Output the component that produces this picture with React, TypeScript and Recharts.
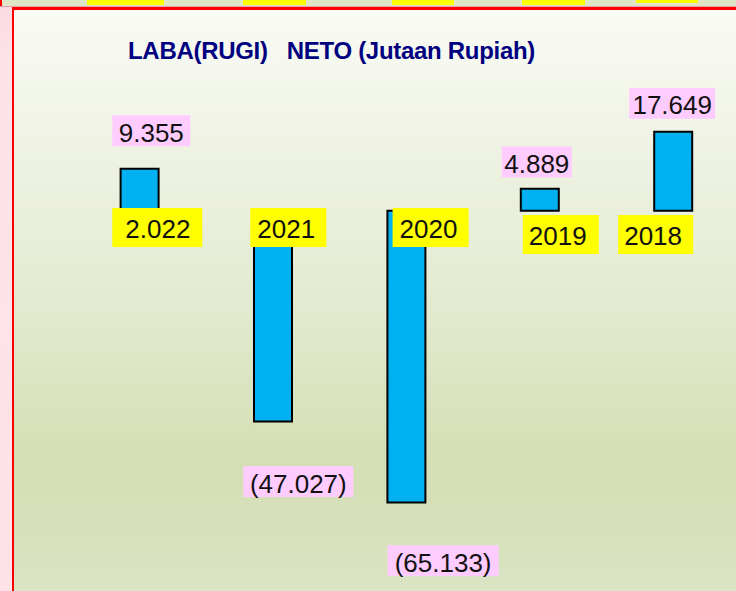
import React from 'react';
import { BarChart, Bar, XAxis, YAxis, LabelList } from 'recharts';

// ---- data ----
const categories = ['2.022', '2021', '2020', '2019', '2018'];
const netProfit = [9355, -47027, -65133, 4889, 17649];
const chartTitle = 'LABA(RUGI)   NETO (Jutaan Rupiah)';

const data = categories.map((cat, i) => ({ cat, value: netProfit[i] }));

// ---- label layout (hand placed boxes, relative to each bar) ----
const valueLabelLayout = [
  { dx: -27.3, gap: 22.5, w: 78 },
  { dx: -29.7, gap: 44.7, w: 110 },
  { dx: -18.8, gap: 42.7, w: 111 },
  { dx: -38, gap: 11.3, w: 70 },
  { dx: -44, gap: 12.7, w: 86 },
];
const catLabelLayout = [
  { dx: -27.3, dy: -2.7, w: 90, tx: 13 },
  { dx: -22.7, dy: -2.7, w: 76, tx: 7 },
  { dx: -13.8, dy: -2.7, w: 76, tx: 7 },
  { dx: -17, dy: 4.3, w: 76, tx: 6 },
  { dx: -55, dy: 4.3, w: 75, tx: 6 },
];

const FONT = "'Liberation Sans', Arial, sans-serif";

const fmt = (v: number) => {
  const s = Math.abs(v)
    .toString()
    .replace(/\B(?=(\d{3})+(?!\d))/g, '.');
  return v < 0 ? `(${s})` : s;
};

const renderLabels = (props: any) => {
  const vb = props.viewBox && props.viewBox.width !== undefined ? props.viewBox : props;
  const x = Number(vb.x);
  const y = Number(vb.y);
  const w = Number(vb.width);
  const h = Number(vb.height);
  const index = props.index as number;
  const value = netProfit[index];
  const top = Math.min(y, y + h);
  const bottom = Math.max(y, y + h);
  const cx = x + w / 2;
  const zeroY = value >= 0 ? bottom : top;
  const endY = value >= 0 ? top : bottom;

  const vl = valueLabelLayout[index];
  const vRectY = value >= 0 ? endY - vl.gap - 31 : endY + vl.gap;
  const vRectX = cx + vl.dx;

  const cl = catLabelLayout[index];
  const cRectX = cx + cl.dx;
  const cRectY = zeroY + cl.dy;

  return (
    <g>
      <rect x={vRectX} y={vRectY} width={vl.w} height={31} fill="#FFCCFF" />
      <text
        x={vRectX + vl.w / 2}
        y={vRectY + 26.5}
        textAnchor="middle"
        fontFamily={FONT}
        fontSize={26}
        fill="#111"
      >
        {fmt(value)}
      </text>
      <rect x={cRectX} y={cRectY} width={cl.w} height={39} fill="#FFFF00" />
      <text
        x={cRectX + cl.tx}
        y={cRectY + 29.5}
        textAnchor="start"
        fontFamily={FONT}
        fontSize={26}
        fill="#111"
      >
        {categories[index]}
      </text>
    </g>
  );
};

const topStripBoxes = [
  { l: 87, w: 77, h: 5 },
  { l: 243, w: 63, h: 5 },
  { l: 392, w: 62, h: 5 },
  { l: 522, w: 63, h: 5 },
  { l: 636, w: 62, h: 3 },
];

export default function App() {
  return (
    <div
      style={{
        position: 'absolute',
        left: 0,
        top: 0,
        width: 736,
        height: 591,
        overflow: 'hidden',
        background: 'linear-gradient(to bottom, #FBD9E0 0%, #FDE3E8 10%, #FEE2E7 100%)',
      }}
    >
      {/* top strip */}
      <div
        style={{
          position: 'absolute',
          left: 0,
          top: 0,
          width: 736,
          height: 6,
          background: '#DFE6C8',
        }}
      />
      <div style={{ position: 'absolute', left: 0, top: 0, width: 2, height: 6, background: '#FF0000' }} />
      {topStripBoxes.map((b, i) => (
        <div
          key={i}
          style={{ position: 'absolute', left: b.l, top: 0, width: b.w, height: b.h, background: '#FFFF00' }}
        />
      ))}
      <div style={{ position: 'absolute', left: 0, top: 6, width: 736, height: 1, background: '#E8A0A8' }} />
      {/* main panel */}
      <div
        style={{
          position: 'absolute',
          left: 12,
          top: 7,
          width: 740,
          height: 600,
          boxSizing: 'border-box',
          borderLeft: '2.5px solid #FF0000',
          borderTop: '3px solid #FF0000',
          background:
            'linear-gradient(to bottom, #F9FBF5 0%, #EEF2E2 25%, #E3EACF 50%, #D4DFB5 75%, #D6E0BA 85%, #DCE5C6 100%)',
        }}
      />
      <div
        style={{
          position: 'absolute',
          left: 128,
          top: 39,
          fontFamily: FONT,
          fontWeight: 'bold',
          fontSize: 24,
          lineHeight: '24px',
          color: '#000080',
          whiteSpace: 'pre',
          letterSpacing: -0.3,
        }}
      >
        {chartTitle}
      </div>
      <div style={{ position: 'absolute', left: 0, top: 0 }}>
        <BarChart
          width={760}
          height={600}
          data={data}
          margin={{ top: 98.7, right: 20.4, bottom: 30.9, left: 72.6 }}
        >
          <XAxis dataKey="cat" hide />
          <YAxis hide domain={[-80000, 25000]} allowDataOverflow />
          <Bar
            dataKey="value"
            fill="#00B0F0"
            stroke="#000000"
            strokeWidth={2}
            barSize={38}
            isAnimationActive={false}
          >
            <LabelList dataKey="value" content={renderLabels} />
          </Bar>
        </BarChart>
      </div>
    </div>
  );
}
